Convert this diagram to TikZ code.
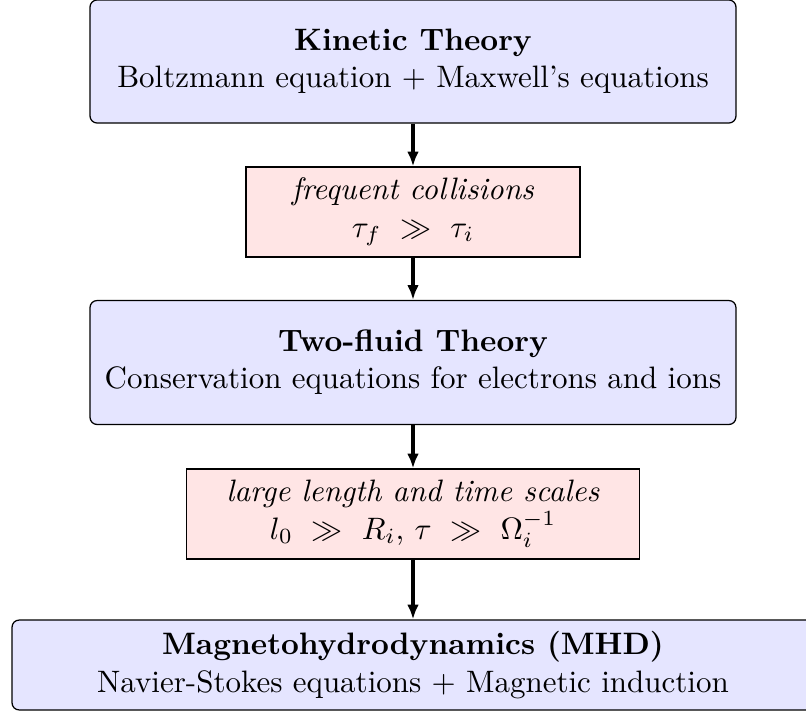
\documentclass[tikz,border=0pt]{standalone}
\usetikzlibrary{arrows.meta}
\begin{document}
\begin{tikzpicture}[x=0.3226pt,y=-0.3226pt,
  theory/.style={draw=black, fill=blue!10, rounded corners=2.3pt, align=center, inner sep=0pt},
  cond/.style={draw=black, fill=red!10, align=center, inner sep=0pt},
  flow/.style={-{Latex[length=4.8pt,width=3.8pt]}, line width=1.2pt}]
\useasboundingbox (0,0) rectangle (806,715);
\clip (0,0) rectangle (806,715);
\node[theory, minimum width=208.4pt, minimum height=39.7pt] (kin) at (413,61.5)
  {\textbf{Kinetic Theory}\\Boltzmann equation + Maxwell's equations};
\node[cond, minimum width=107.7pt, minimum height=29pt] (col) at (413,212)
  {\textit{frequent collisions}\\$\tau_f\ \gg\ \tau_i$};
\node[theory, minimum width=208.4pt, minimum height=40pt] (two) at (413,362.5)
  {\textbf{Two-fluid Theory}\\Conservation equations for electrons and ions};
\node[cond, minimum width=146.1pt, minimum height=29pt] (scl) at (413,514)
  {\textit{large length and time scales}\\$l_0\ \gg\ R_i$, $\tau\ \gg\ \Omega_i^{-1}$};
\node[theory, minimum width=258.7pt, minimum height=29pt] (mhd) at (413,665)
  {\textbf{Magnetohydrodynamics (MHD)}\\Navier-Stokes equations + Magnetic induction};
\draw[flow] (kin) -- (col);
\draw[flow] (col) -- (two);
\draw[flow] (two) -- (scl);
\draw[flow] (scl) -- (mhd);
\end{tikzpicture}
\end{document}
